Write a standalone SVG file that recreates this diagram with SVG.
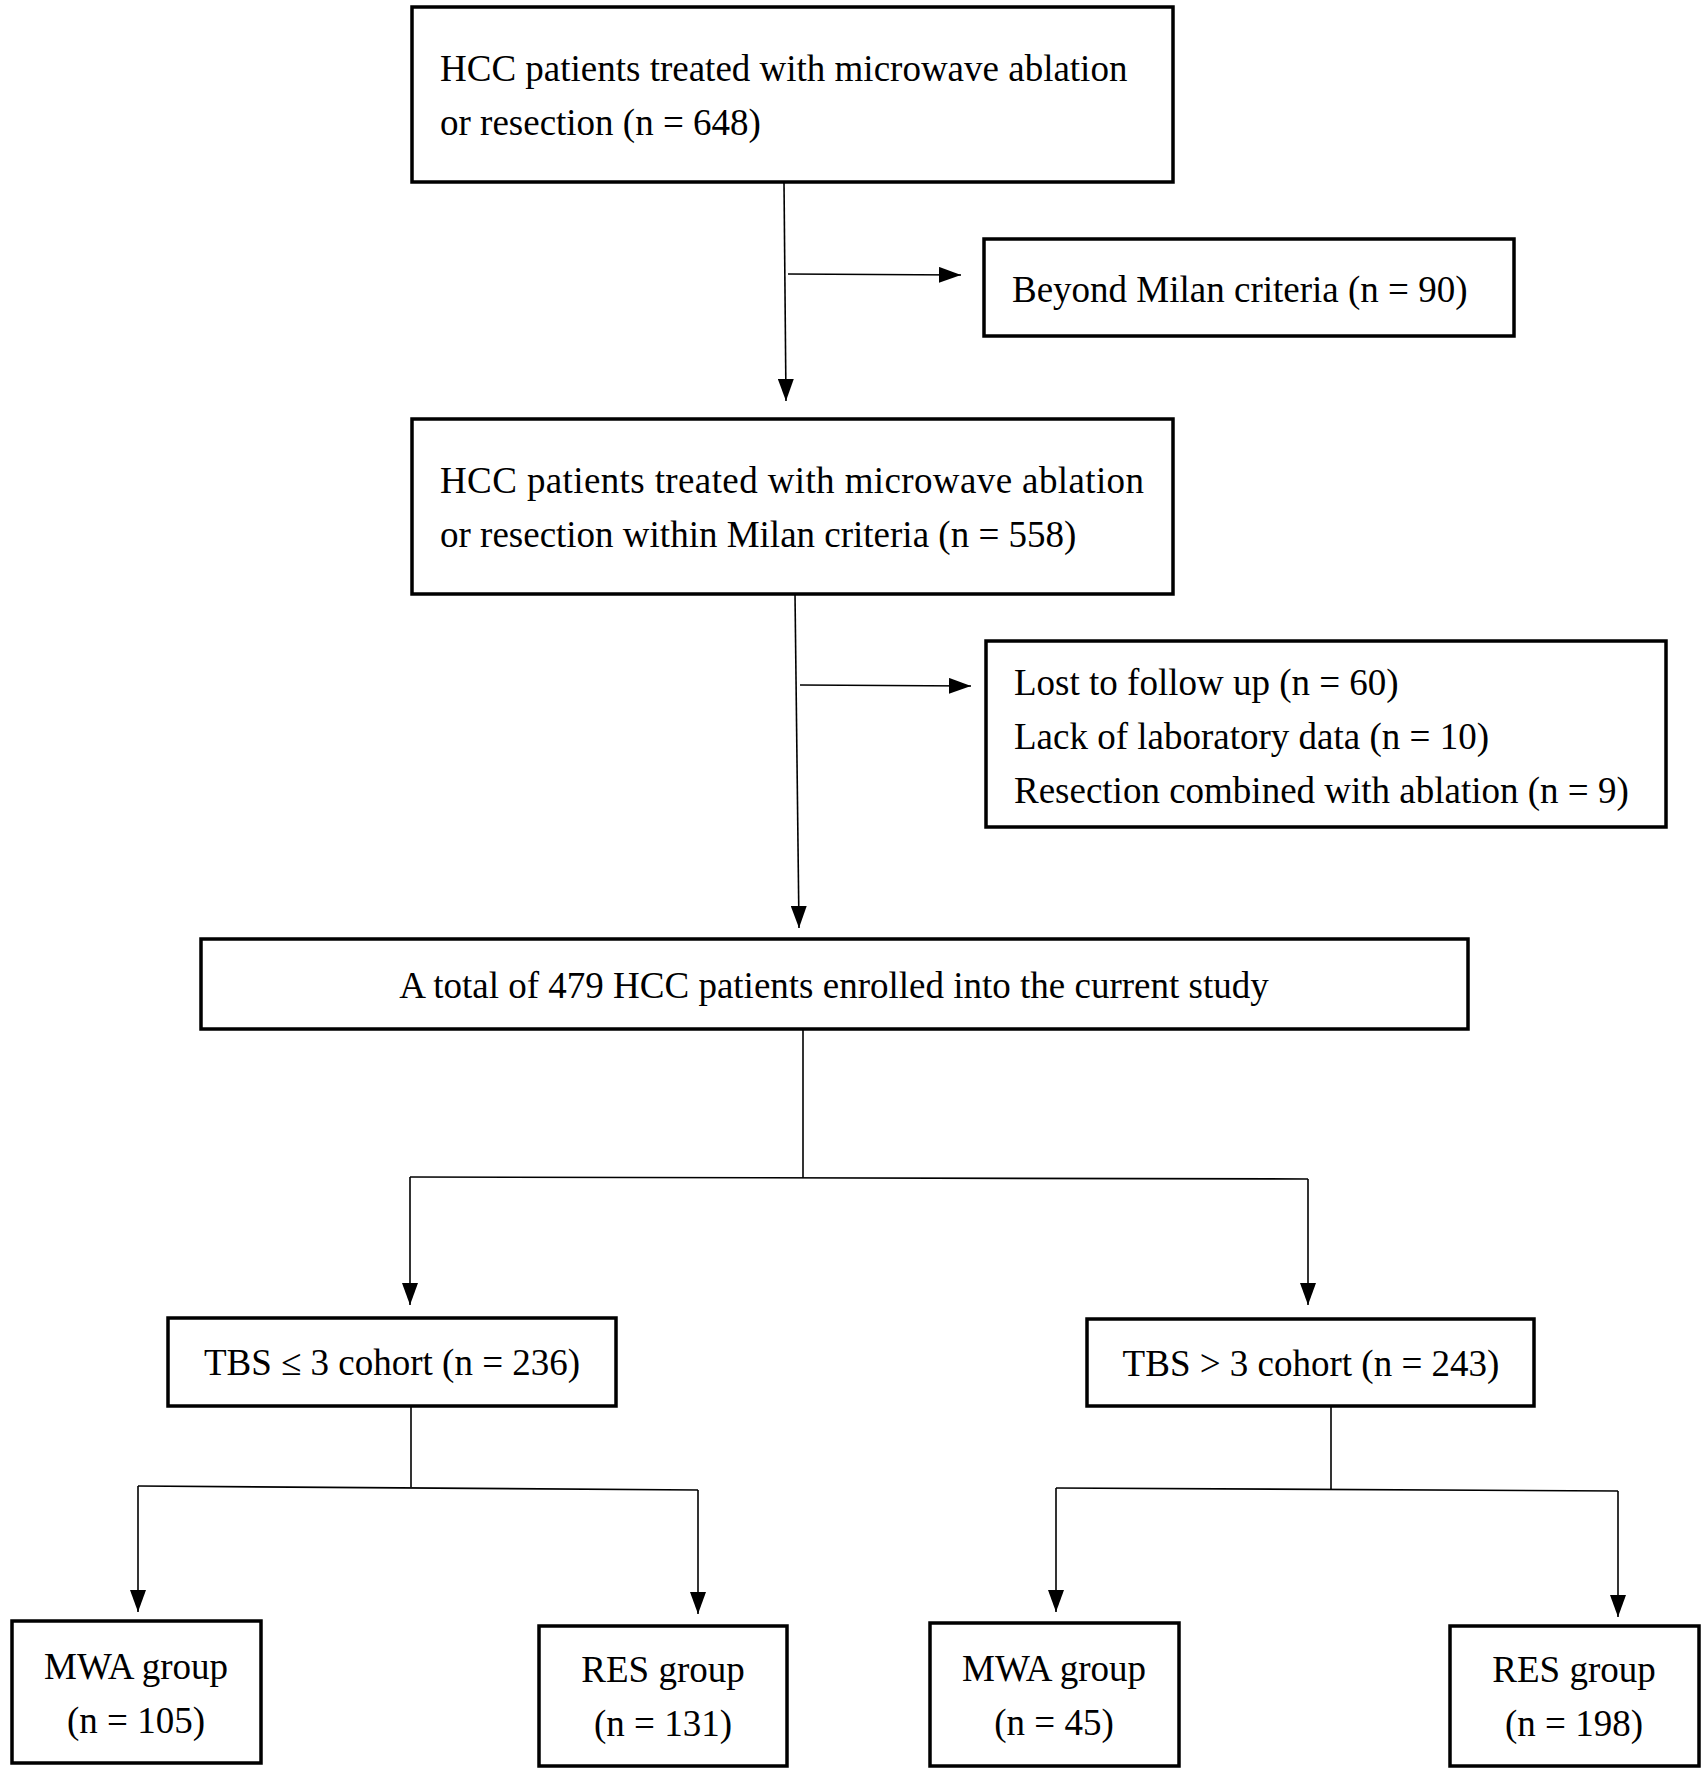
<svg xmlns="http://www.w3.org/2000/svg" width="1704" height="1775" viewBox="0 0 1704 1775">
<style>
.box{fill:#fff;stroke:#000;stroke-width:3.5}
.t{font-family:"Liberation Serif","Times New Roman",serif;font-size:37px;fill:#000}
.c{text-anchor:middle}
.ln{fill:none;stroke:#000;stroke-width:1.6}
</style>
<defs>
<marker id="ah" markerUnits="userSpaceOnUse" markerWidth="22" markerHeight="16" refX="22" refY="8" orient="auto" viewBox="0 0 22 16">
<path d="M0,0 L22,8 L0,16 z" fill="#000"/>
</marker>
</defs>
<rect width="1704" height="1775" fill="#fff"/>
<g transform="translate(2,0)">
<g id="connectors">
<path class="ln" d="M782,182 L784,401" marker-end="url(#ah)"/>
<path class="ln" d="M786,274 L959,275" marker-end="url(#ah)"/>
<path class="ln" d="M793,594 L797,928" marker-end="url(#ah)"/>
<path class="ln" d="M798,685 L969,686" marker-end="url(#ah)"/>
<path class="ln" d="M801,1029 L801,1178"/>
<path class="ln" d="M408,1177 L1306,1179"/>
<path class="ln" d="M408,1177 L408,1305" marker-end="url(#ah)"/>
<path class="ln" d="M1306,1179 L1306,1305" marker-end="url(#ah)"/>
<path class="ln" d="M409,1406 L409,1487"/>
<path class="ln" d="M136,1486 L696,1490"/>
<path class="ln" d="M136,1486 L136,1612" marker-end="url(#ah)"/>
<path class="ln" d="M696,1490 L696,1614" marker-end="url(#ah)"/>
<path class="ln" d="M1329,1406 L1329,1489"/>
<path class="ln" d="M1054,1488 L1616,1491"/>
<path class="ln" d="M1054,1488 L1054,1612" marker-end="url(#ah)"/>
<path class="ln" d="M1616,1491 L1616,1617" marker-end="url(#ah)"/>
</g>
<g id="n1">
<rect class="box" x="410" y="7" width="761" height="175"/>
<text class="t" x="438" y="81">HCC patients treated with microwave ablation</text>
<text class="t" x="438" y="135">or resection (n = 648)</text>
</g>
<g id="n2">
<rect class="box" x="982" y="239" width="530" height="97"/>
<text class="t" x="1010" y="302">Beyond Milan criteria (n = 90)</text>
</g>
<g id="n3">
<rect class="box" x="410" y="419" width="761" height="175"/>
<text class="t" x="438" y="493" textLength="704" lengthAdjust="spacing">HCC patients treated with microwave ablation</text>
<text class="t" x="438" y="547">or resection within Milan criteria (n = 558)</text>
</g>
<g id="n4">
<rect class="box" x="984" y="641" width="680" height="186"/>
<text class="t" x="1012" y="695">Lost to follow up (n = 60)</text>
<text class="t" x="1012" y="749">Lack of laboratory data (n = 10)</text>
<text class="t" x="1012" y="803">Resection combined with ablation (n = 9)</text>
</g>
<g id="n5">
<rect class="box" x="199" y="939" width="1267" height="90"/>
<text class="t c" x="832" y="998">A total of 479 HCC patients enrolled into the current study</text>
</g>
<g id="n6">
<rect class="box" x="166" y="1318" width="448" height="88"/>
<text class="t c" x="390" y="1375">TBS ≤ 3 cohort (n = 236)</text>
</g>
<g id="n7">
<rect class="box" x="1085" y="1319" width="447" height="87"/>
<text class="t c" x="1309" y="1376">TBS &gt; 3 cohort (n = 243)</text>
</g>
<g id="n8">
<rect class="box" x="10" y="1621" width="249" height="142"/>
<text class="t c" x="134" y="1679">MWA group</text>
<text class="t c" x="134" y="1733">(n = 105)</text>
</g>
<g id="n9">
<rect class="box" x="537" y="1626" width="248" height="140"/>
<text class="t c" x="661" y="1682">RES group</text>
<text class="t c" x="661" y="1736">(n = 131)</text>
</g>
<g id="n10">
<rect class="box" x="928" y="1623" width="249" height="143"/>
<text class="t c" x="1052" y="1681">MWA group</text>
<text class="t c" x="1052" y="1735">(n = 45)</text>
</g>
<g id="n11">
<rect class="box" x="1448" y="1626" width="249" height="140"/>
<text class="t c" x="1572" y="1682">RES group</text>
<text class="t c" x="1572" y="1736">(n = 198)</text>
</g>
</g>
</svg>
